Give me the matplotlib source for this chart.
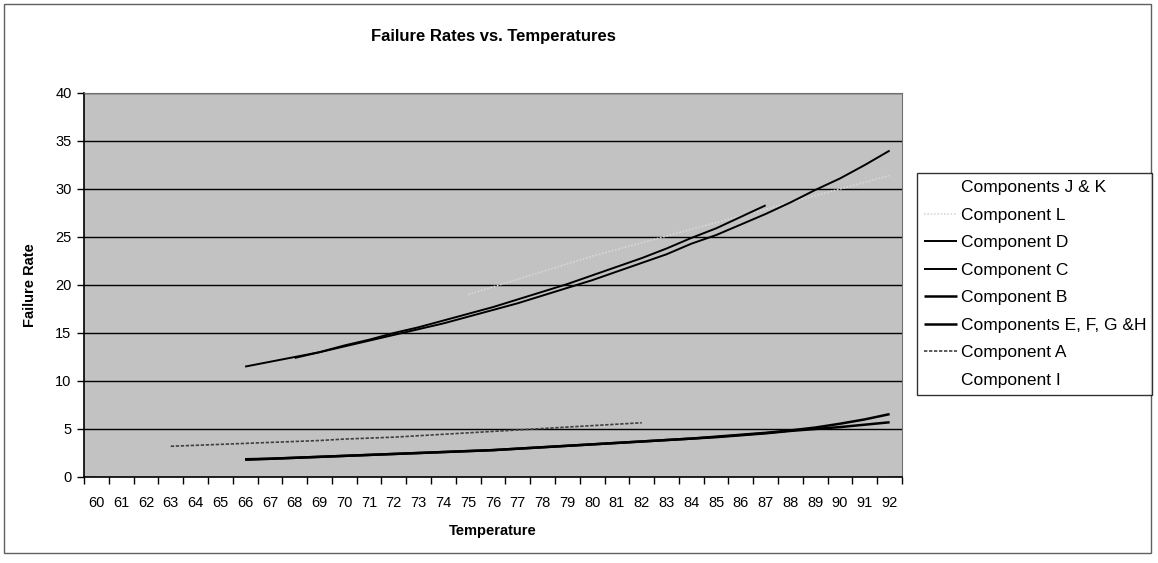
import matplotlib
matplotlib.use("Agg")
import matplotlib.pyplot as plt
from matplotlib.patches import Rectangle
import numpy as np

plt.rcParams['font.family'] = ['Liberation Sans', 'DejaVu Sans']

temps = list(range(60, 93))

# series: (start temperature, values)
comp_D_start = 66
comp_D = [11.5, 12.0, 12.5, 13.0, 13.6, 14.2, 14.8, 15.4, 16.0, 16.7, 17.4, 18.1, 18.9,
          19.7, 20.5, 21.4, 22.3, 23.2, 24.3, 25.2, 26.3, 27.4, 28.6, 29.9, 31.1, 32.5, 34.0]
comp_C_start = 68
comp_C = [12.4, 13.0, 13.7, 14.3, 15.0, 15.6, 16.3, 17.0, 17.7, 18.5, 19.3, 20.1, 21.0,
          21.9, 22.8, 23.8, 24.9, 25.9, 27.1, 28.3]
comp_B_start = 66
comp_B = [1.85, 1.9, 2.0, 2.1, 2.2, 2.3, 2.4, 2.5, 2.6, 2.7, 2.8, 2.95, 3.1, 3.25, 3.4,
          3.55, 3.7, 3.85, 4.0, 4.15, 4.35, 4.55, 4.8, 5.0, 5.2, 5.45, 5.7]
comp_EFGH_start = 66
comp_EFGH = [1.8, 1.9, 2.0, 2.1, 2.2, 2.3, 2.4, 2.5, 2.6, 2.7, 2.8, 2.95, 3.1, 3.25, 3.4,
             3.55, 3.7, 3.85, 4.0, 4.2, 4.4, 4.6, 4.85, 5.15, 5.55, 6.0, 6.55]
comp_A_start = 63
comp_A = [3.2, 3.3, 3.4, 3.5, 3.6, 3.7, 3.8, 3.95, 4.05, 4.15, 4.3, 4.45, 4.6, 4.75,
          4.9, 5.05, 5.2, 5.35, 5.5, 5.65]
comp_L_start = 75
comp_L = [19.0, 19.8, 20.6, 21.4, 22.2, 23.0, 23.7, 24.4, 25.1, 25.8, 26.5, 27.2, 27.9,
          28.6, 29.3, 30.0, 30.7, 31.4]
comp_JK_start = 60
comp_JK = [0.0] * 33
comp_I_start = 60
comp_I = [0.0] * 33

series = [
    ("Components J & K", comp_JK_start, comp_JK, dict(color="white", lw=1.0)),
    ("Component L", comp_L_start, comp_L, dict(color="#d8d8d8", lw=1.2, ls=(0, (1, 1)))),
    ("Component D", comp_D_start, comp_D, dict(color="black", lw=1.4)),
    ("Component C", comp_C_start, comp_C, dict(color="black", lw=1.4)),
    ("Component B", comp_B_start, comp_B, dict(color="black", lw=1.8)),
    ("Components E, F, G &H", comp_EFGH_start, comp_EFGH, dict(color="black", lw=1.8)),
    ("Component A", comp_A_start, comp_A, dict(color="#404040", lw=1.2, ls=(0, (2, 1)))),
    ("Component I", comp_I_start, comp_I, dict(color="white", lw=1.0)),
]

W, H = 1158, 563
fig = plt.figure(figsize=(W / 100, H / 100), dpi=100)
fig.patch.set_facecolor("white")

# chart border
fig.add_artist(Rectangle((4 / W, 1 - 553 / H), (1151 - 4) / W, (553 - 4) / H,
                         transform=fig.transFigure, fill=False, ec="#606060", lw=1.0))

L, R, T, B = 84, 902, 93, 477
ax = fig.add_axes([L / W, 1 - B / H, (R - L) / W, (B - T) / H])
ax.set_facecolor("#c2c2c2")

ax.set_xlim(-0.5, len(temps) - 0.5)
ax.set_ylim(0, 40)
ax.set_yticks(np.arange(0, 41, 5))
ax.yaxis.grid(True, color="black", lw=1.0)
ax.set_axisbelow(True)

ax.set_xticks(np.arange(-0.5, len(temps), 1.0))
ax.set_xticklabels([])
ax.set_xticks(np.arange(len(temps)), minor=True)
ax.set_xticklabels([str(t) for t in temps], minor=True, fontsize=10.5)
ax.tick_params(axis="x", which="major", direction="out", length=5, width=1)
ax.tick_params(axis="x", which="minor", length=0, pad=14)
ax.tick_params(axis="y", direction="out", length=5, width=1, labelsize=10.5, pad=4)

for sp in ["top", "right"]:
    ax.spines[sp].set_color("#707070")
for sp in ["left", "bottom"]:
    ax.spines[sp].set_color("black")
    ax.spines[sp].set_linewidth(1.2)

handles = []
for name, start, vals, style in series:
    xs = [temps.index(start) + i for i in range(len(vals))]
    h, = ax.plot(xs, vals, label=name, solid_capstyle="butt", **style)
    handles.append(h)

fig.text((L + R) / 2 / W, 1 - 37 / H, "Failure Rates vs. Temperatures",
         ha="center", va="center", fontsize=12, fontweight="bold")
fig.text((L + R) / 2 / W, 1 - 531 / H, "Temperature",
         ha="center", va="center", fontsize=10.5, fontweight="bold")
fig.text(30 / W, 1 - 285 / H, "Failure Rate", rotation=90,
         ha="center", va="center", fontsize=10.5, fontweight="bold")

lx0, ly0, lx1, ly1 = 917, 173, 1152, 397
leg = fig.legend(handles=handles, loc="upper left",
                 bbox_to_anchor=(lx0 / W, 1 - ly1 / H, (lx1 - lx0) / W, (ly1 - ly0) / H),
                 mode="expand", frameon=True, fancybox=False, edgecolor="black",
                 fontsize=12.5, handlelength=1.9, handletextpad=0.2,
                 labelspacing=0.71, borderpad=0.42, borderaxespad=0)
leg.get_frame().set_linewidth(1.0)

fig.savefig("out.png", dpi=100)
